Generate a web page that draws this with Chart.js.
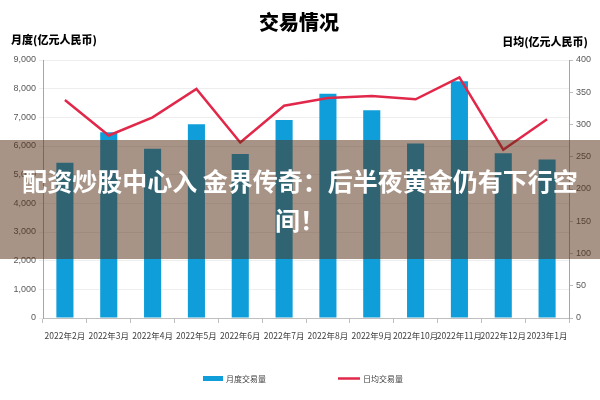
<!DOCTYPE html>
<html>
<head>
<meta charset="utf-8">
<script src="https://cdn.jsdelivr.net/npm/chart.js@4"></script>
<style>
  html, body { margin: 0; padding: 0; background: #fff; }
  #wrap { position: relative; width: 600px; height: 400px; }
  #banner {
    position: absolute; left: 0; top: 140px; width: 600px; height: 119px;
    background: rgba(81, 41, 13, 0.5);
    display: flex; align-items: center; justify-content: center; text-align: center;
    color: #fff; font: bold 25px "Noto Sans CJK SC", sans-serif; line-height: 39px;
  }
</style>
</head>
<body>
<div id="wrap">
  <canvas id="chart" width="600" height="400"></canvas>
  <div id="banner">配资炒股中心入 金界传奇：后半夜黄金仍有下行空<br>间！</div>
</div>
<script>
const FONT = '"Noto Sans CJK SC", "Liberation Sans", sans-serif';

const months = ['2022年2月', '2022年3月', '2022年4月', '2022年5月', '2022年6月', '2022年7月',
  '2022年8月', '2022年9月', '2022年10月', '2022年11月', '2022年12月', '2023年1月'];
const monthlyVolume = [5420, 6480, 5900, 6760, 5725, 6910, 7825, 7250, 6085, 8260, 5750, 5525];
const dailyAverage = [338, 283, 311, 355, 272, 329, 341, 344, 339, 373, 261, 308];
const leftTicks = [0, 1000, 2000, 3000, 4000, 5000, 6000, 7000, 8000, 9000];
const rightTicks = [0, 50, 100, 150, 200, 250, 300, 350, 400];

const chartTitle = '交易情况';
const leftTitle = '月度(亿元人民币)';
const rightTitle = '日均(亿元人民币)';
const barLabel = '月度交易量';
const lineLabel = '日均交易量';

const BAR_COLOR = '#0F9ED9';
const LINE_COLOR = '#E2284A';

// titles + legend drawn by hand
const decorations = {
  id: 'decorations',
  afterDraw(chart) {
    const ctx = chart.ctx;
    ctx.save();
    ctx.fillStyle = '#000';
    ctx.textBaseline = 'middle';
    ctx.textAlign = 'center';
    ctx.font = '900 20px ' + FONT;
    ctx.fillText(chartTitle, 299, 22);

    ctx.font = '900 11px ' + FONT;
    ctx.textAlign = 'left';
    ctx.fillText(leftTitle, 11, 40);
    ctx.textAlign = 'right';
    ctx.fillText(rightTitle, 588, 42);

    // legend
    ctx.font = '8px ' + FONT;
    ctx.textAlign = 'left';
    ctx.fillStyle = BAR_COLOR;
    ctx.fillRect(203, 376, 20, 5);
    ctx.fillStyle = '#404040';
    ctx.fillText(barLabel, 226, 379);
    ctx.strokeStyle = LINE_COLOR;
    ctx.lineWidth = 2.5;
    ctx.beginPath();
    ctx.moveTo(338, 378.5);
    ctx.lineTo(360, 378.5);
    ctx.stroke();
    ctx.fillText(lineLabel, 363, 379);
    ctx.restore();
  }
};

new Chart(document.getElementById('chart'), {
  data: {
    labels: months,
    datasets: [
      {
        type: 'line',
        label: lineLabel,
        data: dailyAverage,
        yAxisID: 'y1',
        borderColor: LINE_COLOR,
        borderWidth: 2.5,
        pointRadius: 0,
        tension: 0,
        order: 0
      },
      {
        type: 'bar',
        label: barLabel,
        data: monthlyVolume,
        yAxisID: 'y',
        backgroundColor: BAR_COLOR,
        barPercentage: 0.39,
        categoryPercentage: 1,
        order: 1
      }
    ]
  },
  options: {
    responsive: false,
    animation: false,
    layout: { padding: { top: 60, left: 0, right: 0, bottom: 0 } },
    plugins: { legend: { display: false }, title: { display: false }, tooltip: { enabled: false } },
    scales: {
      x: {
        offset: true,
        grid: { drawOnChartArea: false, tickLength: 5, color: '#bfbfbf', offset: true },
        border: { color: '#bfbfbf' },
        ticks: { font: { family: FONT, size: 8.5 }, color: '#404040', maxRotation: 0, autoSkip: false, padding: 8 },
        afterFit(s) { s.height = 82; }
      },
      y: {
        position: 'left',
        min: 0, max: 9000,
        afterBuildTicks(s) { s.ticks = leftTicks.map(v => ({ value: v })); },
        grid: { color: '#eeeeee', tickLength: 4 },
        border: { color: '#a6a6a6' },
        ticks: { font: { family: '"Liberation Sans", sans-serif', size: 9 }, color: '#595959', padding: 3,
          callback: v => v.toLocaleString('en-US') },
        afterFit(s) { s.width = 43; }
      },
      y1: {
        position: 'right',
        min: 0, max: 400,
        afterBuildTicks(s) { s.ticks = rightTicks.map(v => ({ value: v })); },
        grid: { drawOnChartArea: false, color: '#bfbfbf', tickLength: 4 },
        border: { color: '#a6a6a6' },
        ticks: { font: { family: '"Liberation Sans", sans-serif', size: 9 }, color: '#595959', padding: 3 },
        afterFit(s) { s.width = 31; }
      }
    }
  },
  plugins: [decorations]
});
</script>
</body>
</html>
